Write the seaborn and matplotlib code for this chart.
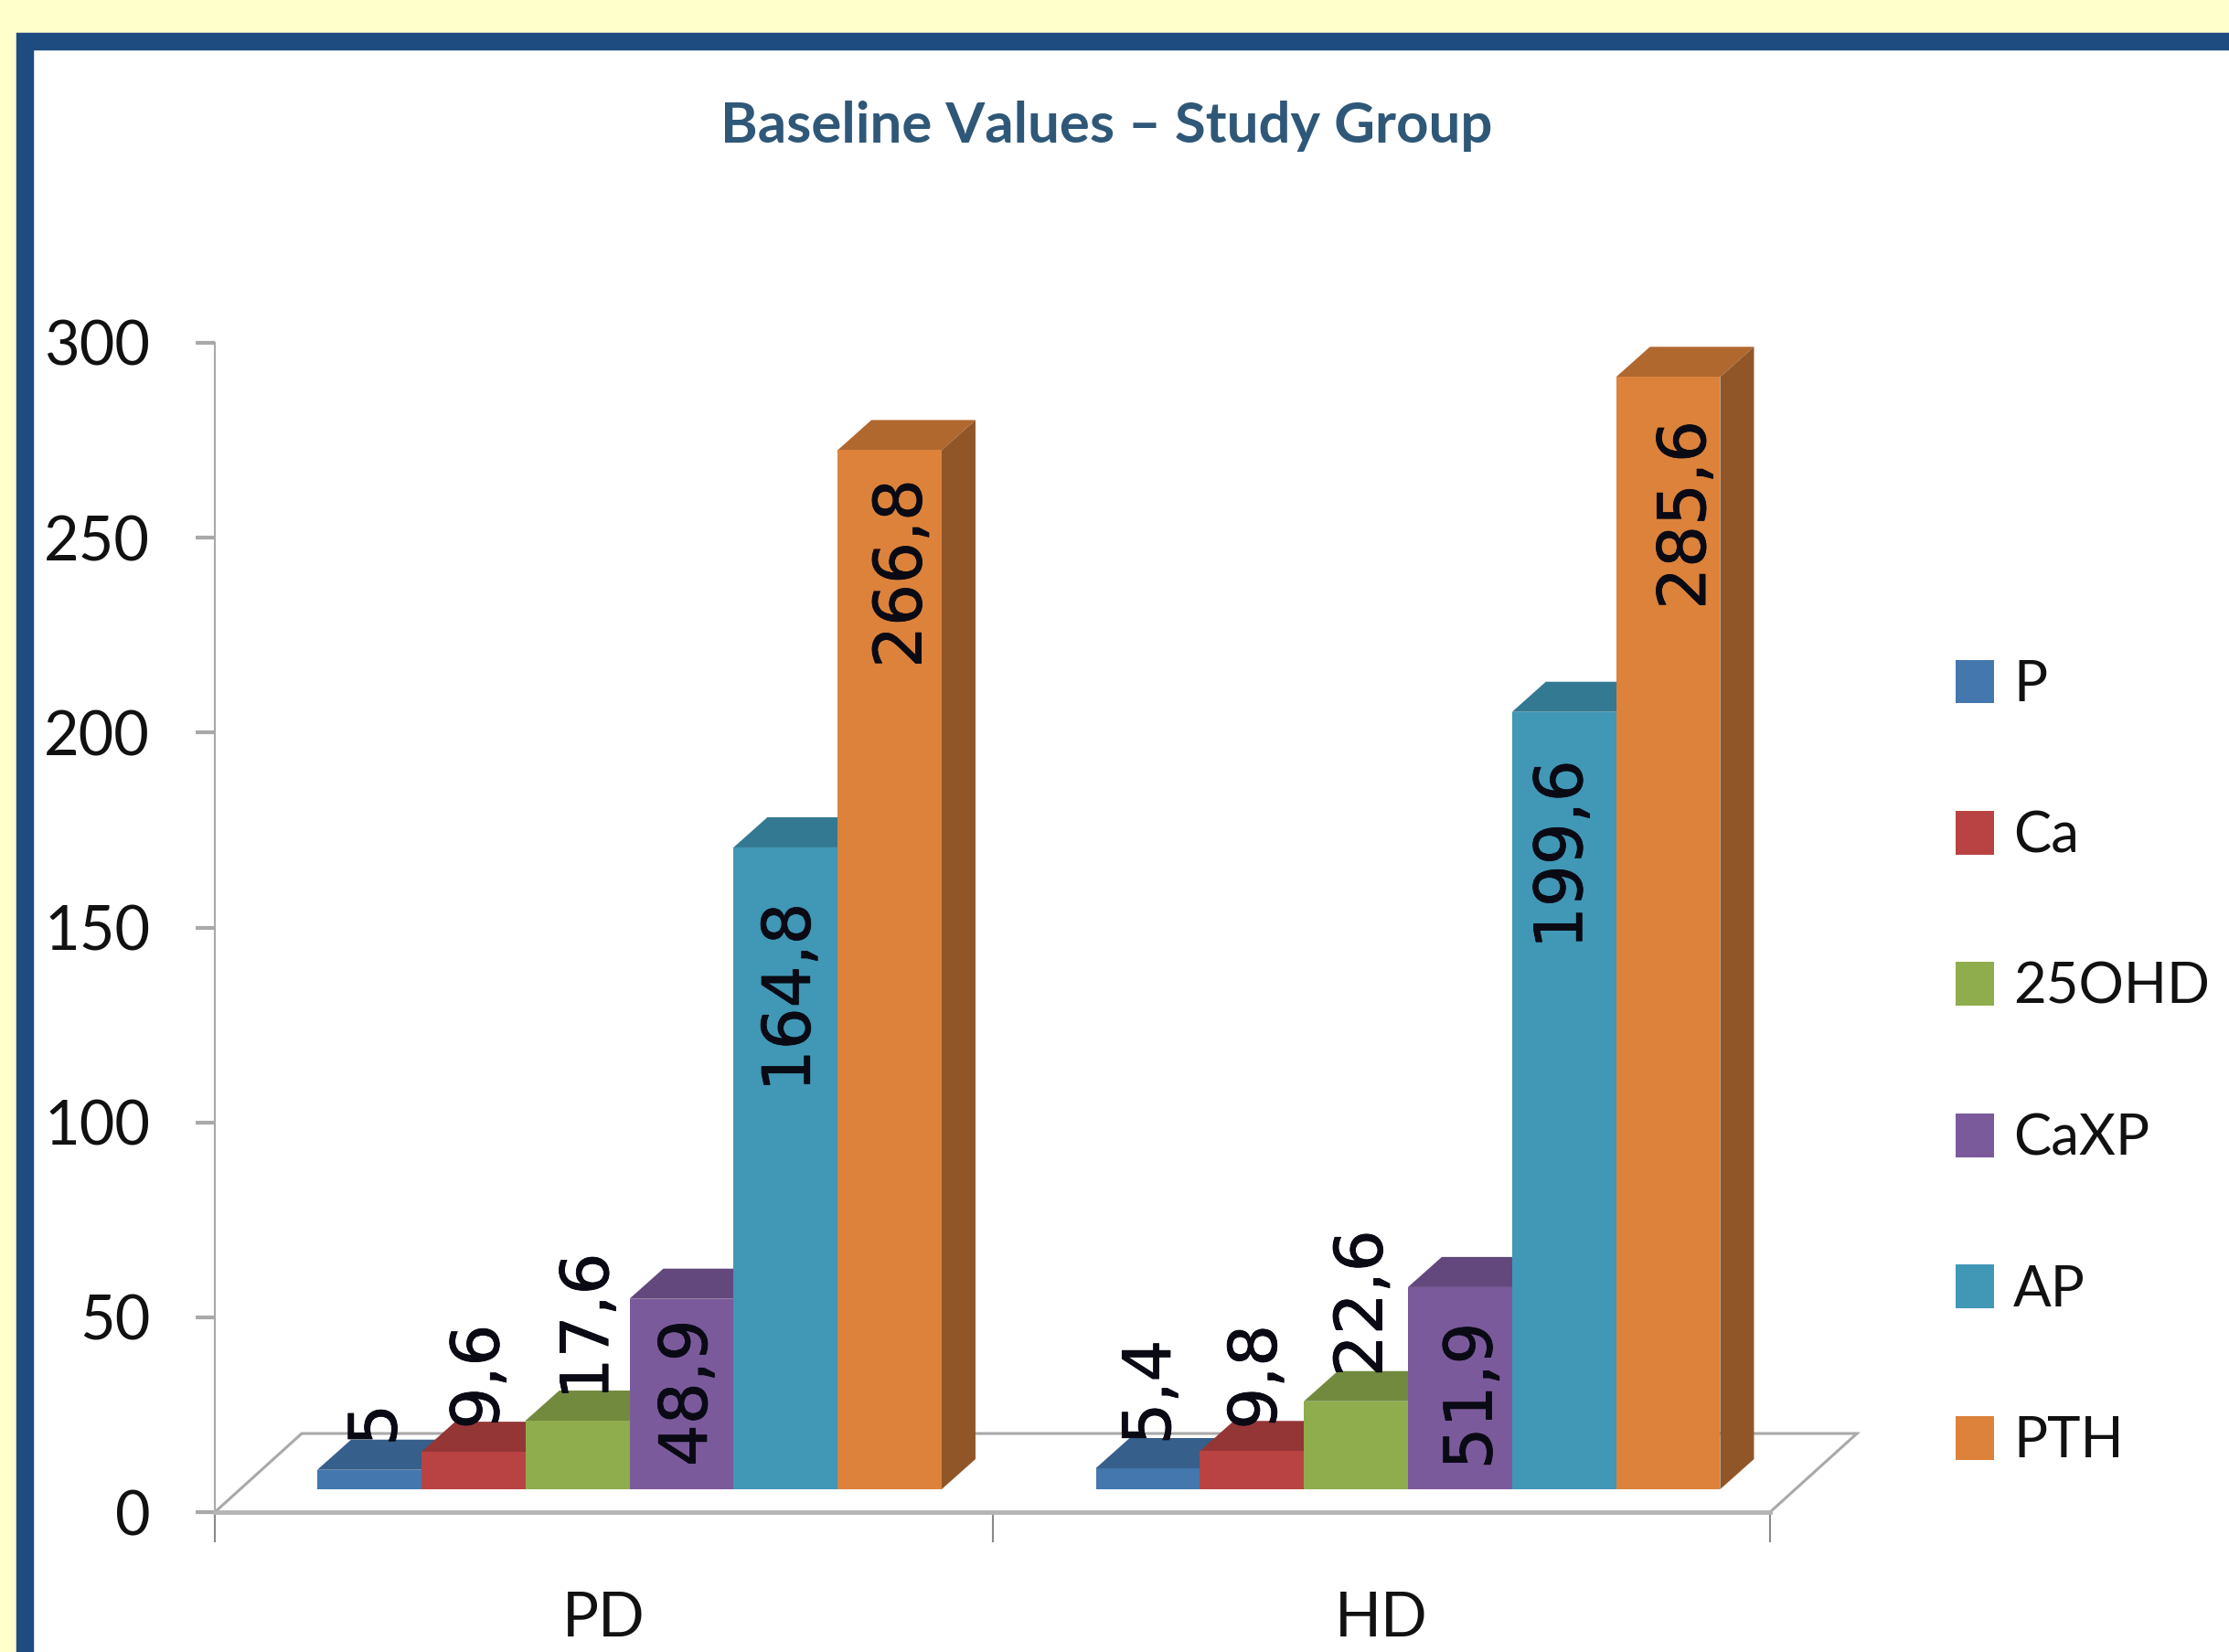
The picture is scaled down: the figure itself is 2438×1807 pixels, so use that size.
import matplotlib
matplotlib.use("Agg")
import matplotlib.pyplot as plt
import matplotlib.colors as mcolors
import matplotlib.patheffects as pe
from matplotlib.patches import Polygon, Rectangle
import pandas as pd
import seaborn as sns

# Measurements by dialysis group
GROUPS = ["PD", "HD"]
ANALYTES = ["P", "Ca", "25OHD", "CaXP", "AP", "PTH"]
PD_VALUES = [5, 9.6, 17.6, 48.9, 164.8, 266.8]
HD_VALUES = [5.4, 9.8, 22.6, 51.9, 199.6, 285.6]
COLOURS = ["#4377AE", "#B94342", "#8FAD4D", "#7B5A9C", "#4097B6", "#DC823B"]
Y_TICKS = [0, 50, 100, 150, 200, 250, 300]
TITLE = "Baseline Values – Study Group"

# Nudges for the value labels, in pixels from the middle of each bar's top edge
PD_LABEL_DX = [10, 8, 14, 8, 7, 15]
PD_LABEL_DY = [49, 82, 103, -103, -164, -135]
HD_LABEL_DX = [5, 7, 9, 15, 0, 21]
HD_LABEL_DY = [83, 81, 107, -119, -156, -151]

W, H = 2438, 1807
SANS = ["Lato", "DejaVu Sans"]
GREY = "#A9A9A9"

sns.set_theme(style="white")
plt.rcParams["font.family"] = SANS

fig = plt.figure(figsize=(W / 100, H / 100), dpi=100, facecolor="#FFFFCC")


def axes_box(left, right, top, bottom):
    return [left / W, 1 - bottom / H, (right - left) / W, (bottom - top) / H]


# White panel with a blue border running off the right and bottom edges
fig.patches.append(Rectangle((27 / W, -0.1), 1.2, 1.1 - 45 / H,
                             transform=fig.transFigure, facecolor="white",
                             edgecolor="#1F4C80", linewidth=14, zorder=-5))

# Axis frame
ax = fig.add_axes(axes_box(235, 1936, 375, 1654), facecolor="none")
ax.set_xlim(-0.5, 1.5)
ax.set_ylim(0, 300)
ax.set_yticks(Y_TICKS)
ax.set_xticks([0, 1], GROUPS)
ax.set_xticks([-0.5, 0.5, 1.5], minor=True)
ax.tick_params(axis="y", length=15, width=3, color=GREY, pad=36, labelsize=48,
               labelcolor="#111111", left=True)
ax.tick_params(axis="x", which="major", length=0, pad=62, labelsize=48,
               labelcolor="#111111")
ax.tick_params(axis="x", which="minor", length=24, width=1.5, color="#8A8A8A",
               bottom=True)
for side in ("top", "right"):
    ax.spines[side].set_visible(False)
ax.spines["left"].set_color(GREY)
ax.spines["left"].set_linewidth(1.5)
ax.spines["bottom"].set_color("#B4B4B4")
ax.spines["bottom"].set_linewidth(3.5)

# Perspective floor behind the bars
floor_dx = 95 * 2 / 1701
floor_dy = 86 * 300 / 1279
ax.plot([-0.5, -0.5 + floor_dx, 1.5 + floor_dx, 1.5],
        [0, floor_dy, floor_dy, 0], color=GREY, linewidth=2.2, clip_on=False,
        solid_joinstyle="miter")

# Bars, on a layer lifted onto the floor and sharing the value scale
ax_bars = fig.add_axes(axes_box(262.75, 1965.75, 351, 1629), facecolor="none",
                       zorder=3)
table = pd.DataFrame({
    "group": [g for g in GROUPS for _ in ANALYTES],
    "analyte": ANALYTES * 2,
    "value": PD_VALUES + HD_VALUES,
})
sns.barplot(data=table, x="group", y="value", hue="analyte", order=GROUPS,
            hue_order=ANALYTES, palette=COLOURS, saturation=1, width=0.802,
            gap=0, errorbar=None, linewidth=0, ax=ax_bars)
ax_bars.set_xlim(-0.5, 1.5)
ax_bars.set_ylim(0, 300)
handles, labels = ax_bars.get_legend_handles_labels()
ax_bars.get_legend().remove()
ax_bars.set_axis_off()

# Top and side faces built from each seaborn bar, painted left to right
depth_x = 37 * 2 / 1703
depth_y = 33 * 300 / 1278


def shade(colour, factor):
    r, g, b = mcolors.to_rgb(colour)
    return (r * factor, g * factor, b * factor)


label_dx = [PD_LABEL_DX, HD_LABEL_DX]
label_dy = [PD_LABEL_DY, HD_LABEL_DY]
for h, (container, colour) in enumerate(zip(ax_bars.containers, COLOURS)):
    for g, bar in enumerate(container):
        x0, x1 = bar.get_x(), bar.get_x() + bar.get_width()
        top = bar.get_height()
        order = 2 + 2 * h
        bar.set_zorder(order + 1)
        ax_bars.add_patch(Polygon(
            [(x0, top), (x0 + depth_x, top + depth_y),
             (x1 + depth_x, top + depth_y), (x1, top)],
            facecolor=shade(colour, 0.8), linewidth=0, zorder=order,
            clip_on=False))
        ax_bars.add_patch(Polygon(
            [(x1, 0), (x1 + depth_x, depth_y), (x1 + depth_x, top + depth_y),
             (x1, top)],
            facecolor=shade(colour, 0.66), linewidth=0, zorder=order,
            clip_on=False))
        ax_bars.annotate(
            f"{top:g}".replace(".", ","), xy=((x0 + x1) / 2, top),
            xytext=(label_dx[g][h], label_dy[g][h]),
            textcoords="offset pixels", rotation=90, ha="center", va="center",
            fontsize=52, family="DejaVu Sans", color="#0A0A14", zorder=50,
            annotation_clip=False,
            path_effects=[pe.withStroke(linewidth=0.6, foreground="#0A0A14")])

fig.text(1210 / W, 1 - 138 / H, TITLE, ha="center", va="center", fontsize=44.5,
         fontweight="bold", color="#2F5778")

legend = fig.legend(handles, labels, loc="center left",
                    bbox_to_anchor=(2139 / W, 1 - 1163 / H), frameon=False,
                    fontsize=44.5, labelcolor="#111111", borderpad=0,
                    borderaxespad=0, handlelength=42 / 61.8,
                    handleheight=50 / 61.8, handletextpad=21 / 61.8,
                    labelspacing=1.755)

fig.savefig("out.png", dpi=100, facecolor=fig.get_facecolor())
